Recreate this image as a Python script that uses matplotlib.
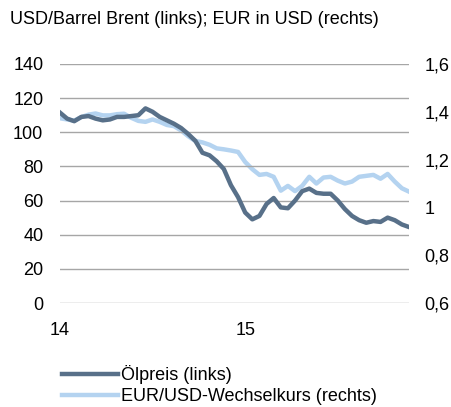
import matplotlib
matplotlib.use("Agg")
import matplotlib.pyplot as plt
from matplotlib.ticker import FuncFormatter

# weekly positions (every second week), week 0 = start of 2014
weeks = list(range(0, 100, 2))

oil = [111.5, 108, 106.5, 109, 109.5, 108, 107, 107.5, 109, 109,
       109.5, 110, 114, 112, 109, 107, 105, 102.5, 99, 95,
       88, 86.5, 83, 78.5, 69, 62, 53, 49, 51, 58,
       61.5, 56, 55.5, 60, 65.5, 67, 64.5, 64, 64, 60,
       55, 51, 48.5, 47, 48, 47.5, 50, 48.5, 46, 44.5]

eurusd = [1.373, 1.368, 1.363, 1.378, 1.388, 1.393, 1.385, 1.385, 1.39, 1.392,
          1.375, 1.362, 1.358, 1.368, 1.358, 1.345, 1.34, 1.322, 1.298, 1.278,
          1.272, 1.262, 1.247, 1.243, 1.238, 1.232, 1.19, 1.16, 1.136, 1.14,
          1.128, 1.07, 1.09, 1.068, 1.09, 1.128, 1.10, 1.125, 1.128, 1.112,
          1.10, 1.108, 1.128, 1.132, 1.136, 1.12, 1.14, 1.108, 1.08, 1.066]

year_ticks = [0, 52]
year_labels = ["14", "15"]

title = "USD/Barrel Brent (links); EUR in USD (rechts)"
oil_label = "Ölpreis (links)"
fx_label = "EUR/USD-Wechselkurs (rechts)"

dark = "#587089"
light = "#b4d3f0"
grid_col = "#a6a6a6"
fs = 13

plt.rcParams["font.family"] = ["Liberation Sans", "DejaVu Sans"]

fig = plt.figure(figsize=(4.52, 4.07), dpi=100)
ax = fig.add_axes([60 / 452, 1 - 303 / 407, 349 / 452, 239 / 407])
ax2 = ax.twinx()

ax.set_ylim(0, 140)
ax.set_yticks(range(0, 141, 20))
ax2.set_ylim(0.6, 1.6)
ax2.set_yticks([0.6, 0.8, 1.0, 1.2, 1.4, 1.6])
ax2.yaxis.set_major_formatter(
    FuncFormatter(lambda v, _: f"{v:g}".replace(".", ","))
)
ax.set_xlim(0, 98)
ax.set_xticks(year_ticks)
ax.set_xticklabels(year_labels)

for a in (ax, ax2):
    for s in a.spines.values():
        s.set_visible(False)
    a.tick_params(length=0, labelsize=fs, colors="black")
ax.tick_params(axis="y", pad=12)
ax2.tick_params(axis="y", pad=11)
ax.tick_params(axis="x", pad=14)

ax.grid(axis="y", color=grid_col, linewidth=1)
ax.set_axisbelow(True)

l1, = ax.plot(weeks, oil, color=dark, linewidth=3.2, label=oil_label,
              solid_joinstyle="round", zorder=3)
l2, = ax2.plot(weeks, eurusd, color=light, linewidth=3.2, label=fx_label,
               solid_joinstyle="round", zorder=2)
ax.set_zorder(ax2.get_zorder() + 1)
ax.patch.set_visible(False)

fig.text(10 / 452, 1 - 19 / 407, title, fontsize=fs, va="center", ha="left")

fig.legend(handles=[l1, l2], loc="upper left",
           bbox_to_anchor=(55 / 452, 1 - 358 / 407), frameon=False,
           fontsize=fs, handlelength=3.1, handletextpad=0.15,
           labelspacing=0.2, borderaxespad=0)

fig.savefig("out.png", dpi=100)
